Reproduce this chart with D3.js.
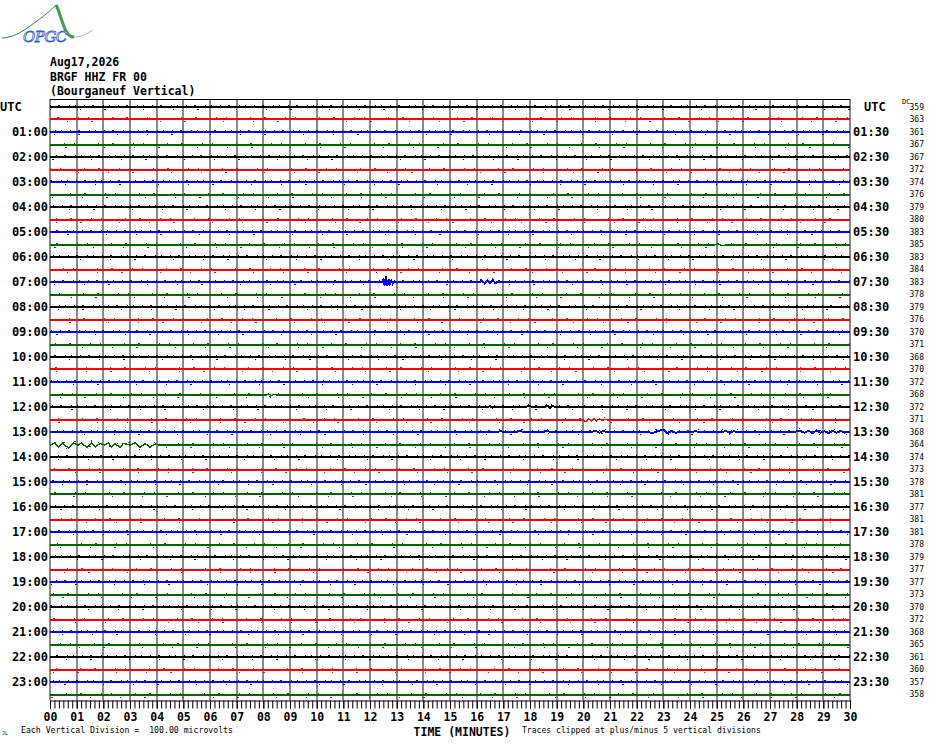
<!DOCTYPE html>
<html><head><meta charset="utf-8">
<script src="https://cdn.jsdelivr.net/npm/d3@7"></script>
<style>body{margin:0;background:#fff}svg{display:block}</style>
</head><body>
<svg id="c" width="930" height="744"></svg>
<script>
// ---------- data ----------
const headerLines = ["Aug17,2026", "BRGF HHZ FR 00", "(Bourganeuf Vertical)"];
const minuteTicks = d3.range(0, 31);
const leftLabels = ["UTC","01:00","02:00","03:00","04:00","05:00","06:00","07:00","08:00","09:00","10:00","11:00",
  "12:00","13:00","14:00","15:00","16:00","17:00","18:00","19:00","20:00","21:00","22:00","23:00"];
const rightLabels = ["UTC","01:30","02:30","03:30","04:30","05:30","06:30","07:30","08:30","09:30","10:30","11:30",
  "12:30","13:30","14:30","15:30","16:30","17:30","18:30","19:30","20:30","21:30","22:30","23:30"];
const dcValues = [359,363,361,367,367,372,374,376,379,380,383,385,383,384,383,378,379,376,370,371,368,370,372,368,
  372,371,368,364,374,373,378,381,377,381,381,378,379,377,377,373,370,372,368,365,361,360,357,358];
const rowColors = ["#000000", "#ff0000", "#0000ff", "#006400"];

// events: [minute, microvolts] per line index
const ev0530 = [[24.9,0],[25.05,8],[25.2,-6],[25.35,0]];
const ev0700a = [[12.45,0],[12.5,16],[12.55,-24],[12.6,48],[12.65,-32],[12.7,24],[12.75,-16],[12.8,8],[12.85,-8],[12.9,0]];
const ev0700b = [[16.1,0],[16.2,8],[16.3,-8],[16.4,12],[16.5,-8],[16.6,16],[16.7,-8],[16.8,0]];
const ev1130 = [[8.1,0],[8.2,10],[8.3,-6],[8.4,6],[8.5,0]];
const ev1200 = [[16.4,0],[16.5,6],[16.6,-4],[16.7,0],[17.8,0],[17.95,8],[18.1,0],[18.55,0],[18.65,10],[18.75,-8],[18.85,10],[18.95,0]];
const ev1230 = [[20.0,0],[20.1,-16],[20.2,10],[20.3,-8],[20.4,12],[20.5,-6],[20.6,8],[20.7,-4],[20.8,6],[20.9,0]];
const ev1300 = [[16.8,0],[16.9,8],[17.0,0],[17.5,0],[17.6,10],[17.75,0],[18.5,0],[18.6,8],[18.8,0],[20.3,0],[20.45,10],
  [20.6,-6],[20.75,8],[20.9,0],[22.4,0],[22.6,-8],[22.8,8],[23.0,18],[23.15,-8],[23.3,8],[23.45,-6],[23.6,0],[24.1,0],
  [24.2,8],[24.35,0],[25.2,0],[25.35,8],[25.5,-6],[25.65,6],[25.8,0],[27.9,0],[28.1,10],[28.3,-6],[28.45,10],[28.6,-10],
  [28.75,12],[28.9,-6],[29.05,6],[29.2,-8],[29.35,10],[29.5,-6],[29.65,8],[29.8,-4],[30,0]];
const ev1330 = [[0,0],[0.19,16],[0.31,-16],[0.46,16],[0.69,-24],[0.88,16],[1.05,0],[1.19,16],[1.38,-20],[1.56,16],
  [1.69,-16],[1.88,12],[2.05,0],[2.19,16],[2.31,-16],[2.44,12],[2.63,-20],[2.75,12],[3.0,0],[3.19,16],[3.38,-20],
  [3.56,12],[3.75,-16],[3.94,8],[4.1,0]];
const rowEvents = {11:[ev0530], 14:[ev0700a, ev0700b], 23:[ev1130], 24:[ev1200], 25:[ev1230], 26:[ev1300], 27:[ev1330]};

// ---------- drawing ----------
const svg = d3.select("#c");
svg.append("rect").attr("width",930).attr("height",744).attr("fill","#fff");
const mono = "'DejaVu Sans Mono', 'Liberation Mono', monospace";

const x = d3.scaleLinear().domain([0,30]).range([50,850]);
const row = d3.scaleLinear().domain([0,47]).range([107,694.5]);
const amp = d3.scaleLinear().domain([-100,100]).range([12.5,-12.5]);

// logo
const logo = svg.append("g");
logo.append("path").attr("d","M2,38 C14,37 20,33 30,26 C40,19 47,14 56,5")
  .attr("fill","none").attr("stroke","#2e8b2e").attr("stroke-width",1);
logo.append("path").attr("d","M56,5 C60,12 62,24 66,31 C68,35 71,37 74,37")
  .attr("fill","none").attr("stroke","#4a9a4a").attr("stroke-width",3);
logo.append("path").attr("d","M74,37 C82,37 88,33 93,30")
  .attr("fill","none").attr("stroke","#8fc88f").attr("stroke-width",1);
logo.append("text").attr("x",23).attr("y",42).text("OPGC")
  .attr("font-family","'DejaVu Serif', serif").attr("font-style","italic").attr("font-size",15)
  .attr("fill","#fff").attr("stroke","#2a5ad8").attr("stroke-width",0.8).attr("letter-spacing",-0.5);

// header
svg.append("g").selectAll("text").data(headerLines).join("text")
  .attr("x",50).attr("y",(d,i)=>66+i*14.5).text(d=>d)
  .attr("font-family",mono).attr("font-size",11.5).attr("font-weight","bold").attr("fill","#000");

// grid
svg.append("g").attr("shape-rendering","crispEdges").selectAll("line").data(minuteTicks).join("line")
  .attr("x1",d=>x(d)).attr("x2",d=>x(d)).attr("y1",99).attr("y2",700)
  .attr("stroke","#8a8a8a").attr("stroke-width",2);
svg.append("line").attr("x1",50).attr("x2",850).attr("y1",99.5).attr("y2",99.5)
  .attr("stroke","#000").attr("stroke-width",1.2);

// traces
const line = d3.line().x(d=>x(d[0])).y(d=>amp(d[1])).curve(d3.curveLinear);
const tr = svg.append("g").attr("shape-rendering","crispEdges");
const widths = [2, 1.4, 2, 1.4];
d3.range(48).forEach(i=>{
  let pts = [[0,0]];
  (rowEvents[i]||[]).forEach(e=>{ pts = pts.concat(e); });
  pts.push([30,0]);
  pts.sort((a,b)=>a[0]-b[0]);
  const col = rowColors[i%4];
  const g = tr.append("g").attr("transform",`translate(0,${Math.round(row(i))})`);
  g.append("path").attr("d",line(pts)).attr("fill","none").attr("stroke",col).attr("stroke-width",widths[i%4]);
  g.append("path").attr("d",line(pts)).attr("fill","none").attr("stroke",col).attr("stroke-width",1)
    .attr("transform","translate(0,-2)").attr("stroke-dasharray", i%2 ? "1,13,2,19,1,9,1,23" : "1,7,2,9,1,5,1,8")
    .attr("stroke-dashoffset", i*7);
  g.append("path").attr("d",line(pts)).attr("fill","none").attr("stroke",col).attr("stroke-width",1)
    .attr("transform","translate(0,2)").attr("stroke-dasharray", "1,29,1,23,2,37")
    .attr("stroke-dashoffset", i*13);
});

// left and right labels
svg.append("g").selectAll("text").data(leftLabels).join("text")
  .attr("x",d=>d==="UTC"?0:48).attr("text-anchor",d=>d==="UTC"?"start":"end")
  .attr("y",(d,i)=>row(i*2)).attr("dy","0.36em").text(d=>d)
  .attr("font-family",mono).attr("font-size",12).attr("font-weight","bold");
svg.append("g").selectAll("text").data(rightLabels).join("text")
  .attr("x",d=>d==="UTC"?864:853).attr("y",(d,i)=>row(i*2)).attr("dy","0.36em").text(d=>d)
  .attr("font-family",mono).attr("font-size",12).attr("font-weight","bold");
svg.append("text").attr("x",902).attr("y",104).text("DC")
  .attr("font-family",mono).attr("font-size",7);
svg.append("g").selectAll("text").data(dcValues).join("text")
  .attr("x",924).attr("text-anchor","end").attr("y",(d,i)=>row(i)).attr("dy","0.35em").text(d=>d)
  .attr("font-family",mono).attr("font-size",8);

// axis
const minor = d3.axisBottom(x).tickValues(d3.range(0,181).map(k=>k/6)).tickSize(8).tickFormat("");
const gMinor = svg.append("g").attr("transform","translate(0,700.5)").call(minor);
gMinor.selectAll("line").attr("stroke","#000").attr("stroke-width",1);
gMinor.select(".domain").attr("stroke","#000");
const major = d3.axisBottom(x).tickValues(minuteTicks).tickSize(8).tickPadding(4).tickFormat(d=>String(d).padStart(2,"0"));
const gMajor = svg.append("g").attr("transform","translate(0,700.5)").call(major);
gMajor.select(".domain").remove();
gMajor.selectAll("text").attr("font-family",mono).attr("font-size",11.5).attr("font-weight","bold").attr("fill","#000");

// footer
svg.append("text").attr("x",462).attr("y",735.5).attr("text-anchor","middle").text("TIME (MINUTES)")
  .attr("font-family",mono).attr("font-size",11.5).attr("font-weight","bold");
svg.append("text").attr("x",21).attr("y",733).text("Each Vertical Division =  100.00 microvolts")
  .attr("font-family",mono).attr("font-size",8.2).style("white-space","pre");
svg.append("text").attr("x",522).attr("y",733).text("Traces clipped at plus/minus 5 vertical divisions")
  .attr("font-family",mono).attr("font-size",8.1);
svg.append("text").attr("x",2).attr("y",735).text("JL")
  .attr("font-family",mono).attr("font-size",5);
</script>
</body></html>
